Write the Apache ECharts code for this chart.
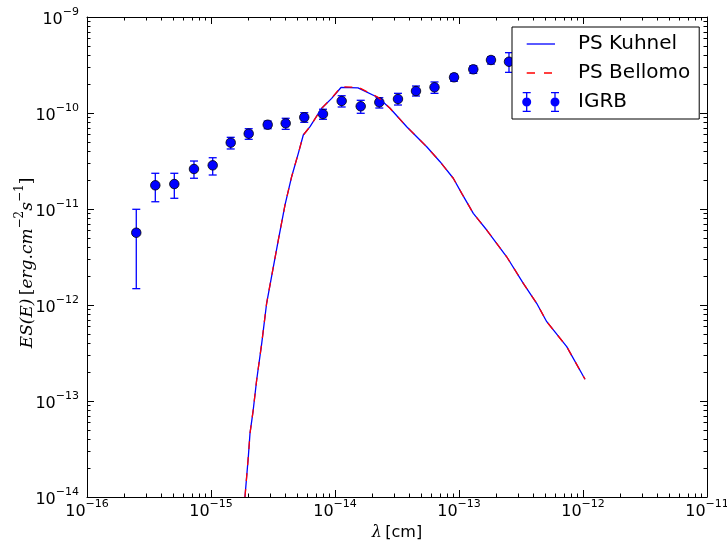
<!DOCTYPE html>
<html><head><meta charset="utf-8">
<script src="https://cdn.jsdelivr.net/npm/echarts@6/dist/echarts.min.js"></script>
<style>html,body{margin:0;padding:0;background:#fff}#c{width:727px;height:546px}</style>
</head><body><div id="c"></div>
<script>
// ---- data ----
const igrbX  = [2.497e-16, 3.555e-16, 5.06e-16, 7.29e-16, 1.032e-15, 1.442e-15, 2.014e-15, 2.866e-15, 4.003e-15, 5.65e-15, 8.0e-15, 1.132e-14, 1.612e-14, 2.277e-14, 3.22e-14, 4.50e-14, 6.346e-14, 9.12e-14, 1.304e-13, 1.811e-13, 2.53e-13];
const igrbY  = [5.66e-12, 1.766e-11, 1.82e-11, 2.61e-11, 2.85e-11, 4.91e-11, 6.09e-11, 7.55e-11, 7.81e-11, 9.02e-11, 9.76e-11, 1.334e-10, 1.175e-10, 1.292e-10, 1.399e-10, 1.694e-10, 1.853e-10, 2.355e-10, 2.85e-10, 3.565e-10, 3.42e-10];
const igrbLo = [1.48e-12, 1.19e-11, 1.293e-11, 2.09e-11, 2.26e-11, 4.22e-11, 5.32e-11, 6.86e-11, 6.76e-11, 8.0e-11, 8.6e-11, 1.155e-10, 9.93e-11, 1.127e-10, 1.211e-10, 1.503e-10, 1.603e-10, 2.14e-10, 2.59e-10, 3.235e-10, 2.65e-10];
const igrbHi = [9.93e-12, 2.355e-11, 2.355e-11, 3.16e-11, 3.42e-11, 5.58e-11, 6.86e-11, 8.25e-11, 8.81e-11, 1.007e-10, 1.094e-10, 1.513e-10, 1.356e-10, 1.443e-10, 1.603e-10, 1.91e-10, 2.105e-10, 2.546e-10, 3.11e-10, 3.86e-10, 4.25e-10];

const psLambda = [1.879e-15, 2.0e-15, 2.063e-15, 2.19e-15, 2.335e-15, 2.565e-15, 2.81e-15, 3.05e-15, 3.49e-15, 3.95e-15, 4.47e-15, 5.06e-15, 5.55e-15, 6.29e-15, 7.81e-15, 9.40e-15, 1.118e-14, 1.533e-14, 2.222e-14, 2.777e-14, 3.787e-14, 5.49e-14, 7.03e-14, 8.99e-14, 1.052e-13, 1.304e-13, 1.673e-13, 2.424e-13, 3.30e-13, 4.23e-13, 5.10e-13, 7.39e-13, 1.038e-12];
const kuhnelY  = [1.0e-14, 2.63e-14, 4.6e-14, 8.05e-14, 1.655e-13, 3.99e-13, 1.042e-12, 1.853e-12, 4.75e-12, 1.10e-11, 2.17e-11, 3.80e-11, 5.90e-11, 7.20e-11, 1.12e-10, 1.42e-10, 1.845e-10, 1.83e-10, 1.45e-10, 1.12e-10, 7.20e-11, 4.45e-11, 3.11e-11, 2.09e-11, 1.457e-11, 9.02e-12, 6.04e-12, 3.18e-12, 1.68e-12, 1.042e-12, 6.70e-13, 3.68e-13, 1.683e-13];
const bellomoY = [1.0e-14, 2.63e-14, 4.6e-14, 8.05e-14, 1.655e-13, 3.99e-13, 1.042e-12, 1.853e-12, 4.75e-12, 1.10e-11, 2.17e-11, 3.80e-11, 5.90e-11, 7.20e-11, 1.12e-10, 1.43e-10, 1.87e-10, 1.86e-10, 1.46e-10, 1.12e-10, 7.20e-11, 4.45e-11, 3.11e-11, 2.09e-11, 1.457e-11, 9.02e-12, 6.04e-12, 3.18e-12, 1.68e-12, 1.042e-12, 6.70e-13, 3.68e-13, 1.683e-13];

const xMajorTicks = [1e-16, 1e-15, 1e-14, 1e-13, 1e-12, 1e-11];
const yMajorTicks = [1e-14, 1e-13, 1e-12, 1e-11, 1e-10, 1e-9];
const minorMult = [2, 3, 4, 5, 6, 7, 8, 9];
const xMinorTicks = [];
xMajorTicks.slice(0, -1).forEach(d => minorMult.forEach(k => xMinorTicks.push(k * d)));
const yMinorTicks = [];
yMajorTicks.slice(0, -1).forEach(d => minorMult.forEach(k => yMinorTicks.push(k * d)));

// ---- chart ----
const chart = echarts.init(document.getElementById('c'), null, {renderer: 'canvas'});
const BLACK = '#000';
const tickFont = 'DejaVu Sans';
const supRich = {
  b: {fontFamily: tickFont, fontSize: 16, color: BLACK, verticalAlign: 'bottom', lineHeight: 21},
  s: {fontFamily: tickFont, fontSize: 11, color: BLACK, verticalAlign: 'top', lineHeight: 12}
};
function powFmt(v) {
  const e = Math.round(Math.log10(v));
  return '{b|10}{s|' + (e < 0 ? '\u2212' : '') + Math.abs(e) + '}';
}
function axisBase(min, max, position, extra) {
  return Object.assign({
    type: 'log', logBase: 10, min: min, max: max, position: position, gridIndex: 0,
    axisLine: {show: false, onZero: false, lineStyle: {color: BLACK, width: 1}},
    axisTick: {show: true, inside: true, length: 7, lineStyle: {color: BLACK, width: 1}},
    axisLabel: {show: false},
    splitLine: {show: false}, minorTick: {show: false}, minorSplitLine: {show: false},
    axisPointer: {show: false}, silent: true
  }, extra);
}
const minorTick = vals => ({show: true, inside: true, length: 3.5, customValues: vals, lineStyle: {color: BLACK, width: 1}});
const majorTick = vals => ({show: true, inside: true, length: 7, customValues: vals, lineStyle: {color: BLACK, width: 1}});

const xAxes = [
  axisBase(1e-16, 1e-11, 'bottom', {
    axisLine: {show: true, onZero: false, lineStyle: {color: BLACK, width: 1}},
    axisTick: majorTick(xMajorTicks),
    axisLabel: {show: true, margin: 2, formatter: powFmt, rich: supRich, showMinLabel: true, showMaxLabel: true, customValues: xMajorTicks},
    name: '{l|\u03bb} {n|[cm]}', nameLocation: 'middle', nameGap: 28, nameMoveOverlap: false,
    nameTextStyle: {rich: {
      l: {fontFamily: 'DejaVu Serif', fontStyle: 'italic', fontSize: 16, color: BLACK},
      n: {fontFamily: tickFont, fontSize: 16, color: BLACK}
    }}
  }),
  axisBase(1e-16, 1e-11, 'bottom', {axisTick: minorTick(xMinorTicks)}),
  axisBase(1e-16, 1e-11, 'top', {axisLine: {show: true, onZero: false, lineStyle: {color: BLACK, width: 1}}, axisTick: majorTick(xMajorTicks)}),
  axisBase(1e-16, 1e-11, 'top', {axisTick: minorTick(xMinorTicks)})
];
const serif = 'DejaVu Serif';
const yAxes = [
  axisBase(1e-14, 1e-9, 'left', {
    axisLine: {show: true, onZero: false, lineStyle: {color: BLACK, width: 1}},
    axisTick: majorTick(yMajorTicks),
    axisLabel: {show: true, margin: 8, formatter: powFmt, rich: supRich, showMinLabel: true, showMaxLabel: true, customValues: yMajorTicks},
    name: '{i|ES(E)} {u|[}{i|erg}{u|.}{i|cm}{s|\u22122}{i|s}{s|\u22121}{u|]}',
    nameLocation: 'middle', nameGap: 51, nameRotate: 90, nameMoveOverlap: false,
    nameTextStyle: {padding: [0, 12, 0, 0], rich: {
      i: {fontFamily: serif, fontStyle: 'italic', fontSize: 17, color: BLACK, verticalAlign: 'bottom', lineHeight: 22},
      u: {fontFamily: serif, fontSize: 17, color: BLACK, verticalAlign: 'bottom', lineHeight: 22},
      s: {fontFamily: serif, fontSize: 12, color: BLACK, verticalAlign: 'top', lineHeight: 12}
    }}
  }),
  axisBase(1e-14, 1e-9, 'left', {axisTick: minorTick(yMinorTicks)}),
  axisBase(1e-14, 1e-9, 'right', {axisLine: {show: true, onZero: false, lineStyle: {color: BLACK, width: 1}}, axisTick: majorTick(yMajorTicks)}),
  axisBase(1e-14, 1e-9, 'right', {axisTick: minorTick(yMinorTicks)})
];

// legend icons (drawn in a 51x20 box; corner moves fix the box size)
const box = 'M0 0M51 20';
const iconLine = 'path://' + box + 'M4.7 9.35L33 9.35L33 10.65L4.7 10.65Z';
const iconDash = 'path://' + box + 'M4.7 9.35L13 9.35L13 10.65L4.7 10.65ZM22 9.35L30 9.35L30 10.65L22 10.65Z';
function errIcon(cx) {
  return 'M' + (cx - 0.65) + ' 0.6L' + (cx + 0.65) + ' 0.6L' + (cx + 0.65) + ' 19.4L' + (cx - 0.65) + ' 19.4Z' +
    'M' + (cx - 4) + ' 0L' + (cx + 4) + ' 0L' + (cx + 4) + ' 1.2L' + (cx - 4) + ' 1.2Z' +
    'M' + (cx - 4) + ' 18.8L' + (cx + 4) + ' 18.8L' + (cx + 4) + ' 20L' + (cx - 4) + ' 20Z' +
    'M' + (cx - 4.5) + ' 10a4.5 4.5 0 1 1 9 0a4.5 4.5 0 1 1 -9 0Z';
}
const iconErr = 'path://' + box + errIcon(4.7) + errIcon(33);

const option = {
  animation: false,
  backgroundColor: '#fff',
  grid: {left: 87, top: 17, right: 20, bottom: 49, containLabel: false, outerBoundsMode: 'none'},
  xAxis: xAxes,
  yAxis: yAxes,
  legend: {
    orient: 'vertical', left: 512, top: 27,
    padding: [7, 9, 7, 10], itemGap: 9, itemWidth: 51, itemHeight: 20,
    backgroundColor: '#fff', borderColor: BLACK, borderWidth: 1, borderRadius: 0,
    selectedMode: false,
    textStyle: {fontFamily: tickFont, fontSize: 20, color: BLACK},
    itemStyle: {borderWidth: 0},
    data: [
      {name: 'PS Kuhnel', icon: iconLine, itemStyle: {color: '#0000ff', borderWidth: 0}},
      {name: 'PS Bellomo', icon: iconDash, itemStyle: {color: '#ff0000', borderWidth: 0}},
      {name: 'IGRB', icon: iconErr, itemStyle: {color: '#0000ff', borderWidth: 0}}
    ],
    z: 10
  },
  series: [
    {
      name: 'PS Kuhnel', type: 'line', xAxisIndex: 0, yAxisIndex: 0,
      data: psLambda.map((x, i) => [x, kuhnelY[i]]),
      showSymbol: false, symbol: 'none', smooth: false, clip: true,
      lineStyle: {color: '#0000ff', width: 1.3}, itemStyle: {color: '#0000ff'}, silent: true
    },
    {
      name: 'PS Bellomo', type: 'line', xAxisIndex: 0, yAxisIndex: 0,
      data: psLambda.map((x, i) => [x, bellomoY[i]]),
      showSymbol: false, symbol: 'none', smooth: false, clip: true,
      lineStyle: {color: '#ff0000', width: 1.3, type: [8, 8]}, itemStyle: {color: '#ff0000'}, silent: true
    },
    {
      name: 'IGRB', type: 'custom', xAxisIndex: 0, yAxisIndex: 0,
      data: igrbX.map((x, i) => [x, igrbLo[i], igrbHi[i]]),
      encode: {x: 0, y: [1, 2]},
      itemStyle: {color: '#0000ff'}, silent: true,
      renderItem: function (params, api) {
        const x = api.value(0);
        const top = api.coord([x, api.value(2)]);
        const bot = api.coord([x, api.value(1)]);
        const hw = 4;
        const st = {stroke: '#0000ff', lineWidth: 1.3, fill: null};
        return {type: 'group', children: [
          {type: 'line', shape: {x1: top[0], y1: top[1], x2: bot[0], y2: bot[1]}, style: st},
          {type: 'line', shape: {x1: top[0] - hw, y1: top[1], x2: top[0] + hw, y2: top[1]}, style: st},
          {type: 'line', shape: {x1: bot[0] - hw, y1: bot[1], x2: bot[0] + hw, y2: bot[1]}, style: st}
        ]};
      }
    },
    {
      name: 'IGRB', type: 'scatter', xAxisIndex: 0, yAxisIndex: 0,
      data: igrbX.map((x, i) => [x, igrbY[i]]),
      symbol: 'circle', symbolSize: 9.5,
      itemStyle: {color: '#0000ff', borderColor: '#000', borderWidth: 0.8, opacity: 1},
      emphasis: {disabled: true}, silent: true
    }
  ]
};
chart.setOption(option);
</script></body></html>
